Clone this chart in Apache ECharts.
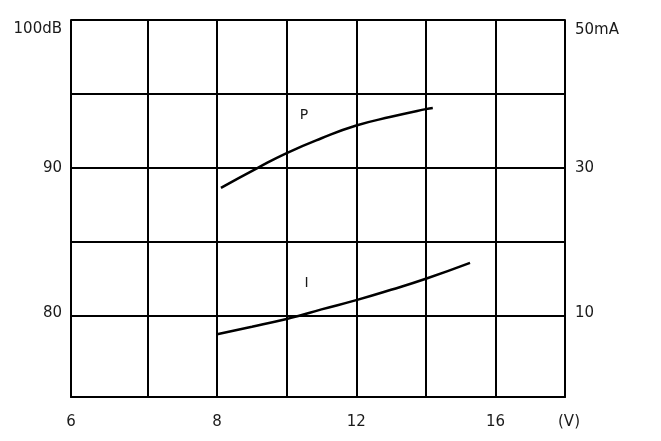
<!DOCTYPE html>
<html>
<head>
<meta charset="utf-8">
<script src="https://cdn.jsdelivr.net/npm/echarts@6/dist/echarts.min.js"></script>
<style>html,body{margin:0;padding:0;background:#fff}#c{width:661px;height:441px}</style>
</head>
<body>
<div id="c"></div>
<script>
// X axis (V): range, grid-line values, labelled values and their texts
var xMin = 3.8, xMax = 18;
var xGridValues = [6, 8, 10, 12, 14, 16, 18];
var xLabelValues = [3.8, 8, 12, 16, 18];
var xLabelTexts = ['6', '8', '12', '16', '(V)'];
// Left axis (dB)
var leftMin = 74.5, leftMax = 100;
var leftGridValues = [80, 85, 90, 95, 100];
var leftLabelValues = [80, 90, 100];
var leftLabelTexts = ['80', '90', '100dB'];
// Right axis (mA)
var rightMin = -1, rightMax = 50;
var rightLabelValues = [10, 30, 50];
var rightLabelTexts = ['10', '30', '50mA'];

// Curve P (dB, left axis)
var pVolt = [8.11, 9.17, 10, 11, 12, 13, 14, 14.2];
var pDb   = [88.65, 90.0, 91.0, 92.0, 92.86, 93.45, 93.97, 94.05];
// Curve I (mA, right axis)
var iVolt = [8, 9, 10, 10.36, 11, 12, 13, 14, 15.27];
var iMa   = [7.5, 8.5, 9.55, 10.0, 10.85, 12.1, 13.5, 15.0, 17.15];
// Curve name label positions (data units)
var pLabel = [10.5, 93.53];
var iLabel = [10.57, 14.4];

function zip(a, b) { return a.map(function (v, k) { return [v, b[k]]; }); }
function lookup(vals, labs) {
  return function (v) {
    for (var k = 0; k < vals.length; k++) if (Math.abs(vals[k] - v) < 1e-6) return labs[k];
    return '';
  };
}
var lx = lookup(xLabelValues, xLabelTexts);
var ll = lookup(leftLabelValues, leftLabelTexts);
var lr = lookup(rightLabelValues, rightLabelTexts);

var FONT = 'DejaVu Sans';
var TXT = '#1a1a1a';
var lineStyle = { color: '#000', width: 2 };

var chart = echarts.init(document.getElementById('c'), null, { renderer: 'canvas' });
chart.setOption({
  animation: false,
  backgroundColor: '#fff',
  grid: { left: 71, right: 96, top: 20, bottom: 44, containLabel: false },
  xAxis: {
    type: 'value', min: xMin, max: xMax,
    axisLine: { show: true, onZero: false, lineStyle: lineStyle },
    axisTick: { show: false, customValues: xGridValues },
    splitLine: { show: true, lineStyle: lineStyle },
    axisLabel: {
      customValues: xLabelValues,
      margin: 18, color: TXT, fontFamily: FONT, fontSize: 15,
      formatter: function (v) {
        var s = lx(v);
        if (s === '(V)') return '{v|' + s + '}';
        return s;
      },
      rich: { v: { fontFamily: FONT, fontSize: 15, color: TXT, padding: [0, 0, 0, 8] } }
    }
  },
  yAxis: [{
    type: 'value', min: leftMin, max: leftMax, position: 'left',
    axisLine: { show: true, onZero: false, lineStyle: lineStyle },
    axisTick: { show: false, customValues: leftGridValues },
    splitLine: { show: true, lineStyle: lineStyle },
    axisLabel: {
      customValues: leftLabelValues,
      margin: 9, color: TXT, fontFamily: FONT, fontSize: 15,
      formatter: function (v) {
        var s = ll(v);
        if (v === 100) return '{t|' + s + '}';
        if (v === 80) return '{b|' + s + '}';
        return s;
      },
      rich: {
        t: { fontFamily: FONT, fontSize: 15, color: TXT, padding: [18, 0, 0, 0] },
        b: { fontFamily: FONT, fontSize: 15, color: TXT, padding: [0, 0, 6, 0] }
      }
    }
  }, {
    type: 'value', min: rightMin, max: rightMax, position: 'right',
    axisLine: { show: true, onZero: false, lineStyle: lineStyle },
    axisTick: { show: false, customValues: rightLabelValues },
    splitLine: { show: false },
    axisLabel: {
      customValues: rightLabelValues,
      margin: 10, color: TXT, fontFamily: FONT, fontSize: 15,
      formatter: function (v) {
        var s = lr(v);
        if (v === 50) return '{t|' + s + '}';
        if (v === 10) return '{b|' + s + '}';
        return s;
      },
      rich: {
        t: { fontFamily: FONT, fontSize: 15, color: TXT, padding: [20, 0, 0, 0] },
        b: { fontFamily: FONT, fontSize: 15, color: TXT, padding: [0, 0, 6, 0] }
      }
    }
  }],
  series: [{
    name: 'P', type: 'line', yAxisIndex: 0, smooth: 0.5, showSymbol: false,
    data: zip(pVolt, pDb),
    lineStyle: { color: '#000', width: 2.5 },
    markPoint: {
      symbol: 'circle', symbolSize: 0,
      label: { show: true, formatter: 'P', color: TXT, fontFamily: FONT, fontSize: 14 },
      data: [{ coord: pLabel }]
    }
  }, {
    name: 'I', type: 'line', yAxisIndex: 1, smooth: 0.5, showSymbol: false,
    data: zip(iVolt, iMa),
    lineStyle: { color: '#000', width: 2.5 },
    markPoint: {
      symbol: 'circle', symbolSize: 0,
      label: { show: true, formatter: 'I', color: TXT, fontFamily: FONT, fontSize: 14 },
      data: [{ coord: iLabel }]
    }
  }]
});
</script>
</body>
</html>
